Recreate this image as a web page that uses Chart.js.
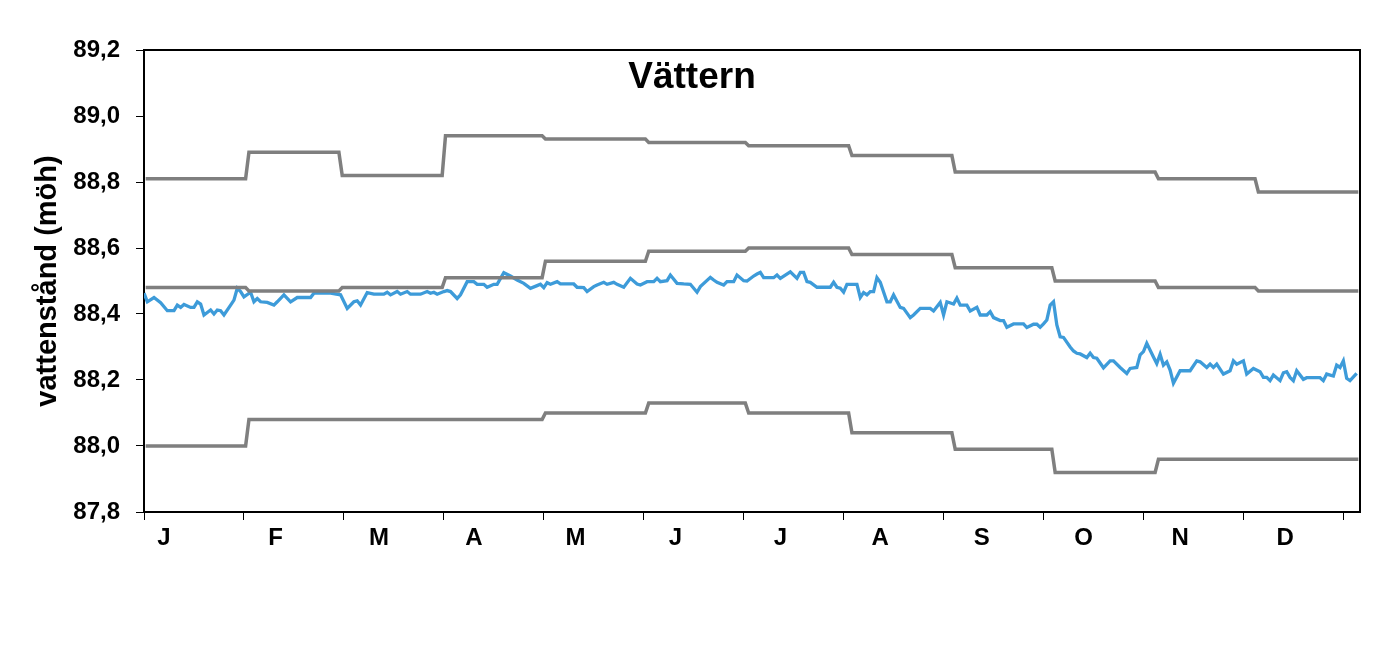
<!DOCTYPE html>
<html>
<head>
<meta charset="utf-8">
<title>Vättern</title>
<script src="https://cdn.jsdelivr.net/npm/chart.js@4.4.1/dist/chart.umd.min.js"></script>
<style>
  html, body { margin: 0; padding: 0; background: #fff; }
  #wrap { width: 1388px; height: 653px; position: relative; }
</style>
</head>
<body>
<div id="wrap"><canvas id="levelChart"></canvas></div>
<script>
// Månader och deras första dag (dag 0 = 1 jan)
const monthNames = ['J', 'F', 'M', 'A', 'M', 'J', 'J', 'A', 'S', 'O', 'N', 'D'];
const monthStartDay = [0, 31, 59, 90, 120, 151, 181, 212, 243, 273, 304, 334];
const yearDays = 365;

// Gränslinjer per månad (möh)
const upperLimit = [88.81, 88.89, 88.82, 88.94, 88.93, 88.92, 88.91, 88.88, 88.83, 88.83, 88.81, 88.77];
const middleLevel = [88.48, 88.47, 88.48, 88.51, 88.56, 88.59, 88.60, 88.58, 88.54, 88.50, 88.48, 88.47];
const lowerLimit = [88.00, 88.08, 88.08, 88.08, 88.10, 88.13, 88.10, 88.04, 87.99, 87.92, 87.96, 87.96];

// Uppmätt vattenstånd (dag, möh)
const levelDays = [
    0, 1, 3, 5, 7, 9, 10, 11, 12, 14, 15, 16, 17, 18, 20, 21, 22, 23, 24, 26, 27, 28, 29, 30,
    32, 33, 34, 35, 37, 39, 40, 42, 44, 46, 50, 51, 56, 59, 61, 63, 64, 65, 67, 69, 72, 73, 74,
    76, 77, 79, 80, 83, 85, 86, 87, 88, 90, 91, 92, 94, 95, 97, 99, 100, 102, 103, 105, 106,
    108, 110, 112, 114, 116, 118, 119, 120, 121, 122, 124, 125, 129, 130, 132, 133, 135, 136,
    138, 139, 141, 142, 144, 146, 148, 149, 151, 153, 154, 155, 157, 158, 160, 162, 164, 166,
    167, 170, 171, 172, 174, 175, 177, 178, 180, 181, 183, 184, 185, 186, 189, 190, 191, 194,
    196, 197, 198, 199, 200, 202, 206, 207, 208, 209, 210, 211, 214, 215, 216, 217, 218, 219,
    220, 221, 223, 224, 225, 227, 228, 230, 231, 233, 236, 237, 239, 240, 241, 243, 244, 245,
    247, 248, 250, 251, 253, 254, 255, 257, 258, 259, 261, 264, 265, 267, 268, 269, 270, 271,
    272, 273, 274, 275, 276, 278, 279, 280, 281, 283, 284, 285, 286, 288, 290, 291, 293, 295,
    296, 298, 299, 300, 301, 303, 304, 305, 306, 307, 308, 309, 311, 314, 316, 317, 319, 320,
    321, 322, 324, 326, 327, 328, 330, 331, 333, 335, 336, 337, 338, 339, 341, 342, 343, 344,
    345, 346, 348, 349, 353, 354, 355, 357, 358, 359, 360, 361, 362, 364
];
const levelValues = [
    88.463, 88.437, 88.450, 88.434, 88.410, 88.410, 88.427, 88.420, 88.429, 88.420, 88.420, 88.437,
    88.430, 88.397, 88.412, 88.400, 88.412, 88.410, 88.397, 88.427, 88.442, 88.478, 88.468, 88.452,
    88.466, 88.437, 88.447, 88.437, 88.435, 88.427, 88.437, 88.458, 88.437, 88.450, 88.450, 88.463,
    88.463, 88.458, 88.417, 88.437, 88.440, 88.427, 88.465, 88.460, 88.460, 88.466, 88.458,
    88.468, 88.460, 88.468, 88.460, 88.460, 88.468, 88.463, 88.466, 88.460, 88.468, 88.471, 88.468,
    88.447, 88.458, 88.498, 88.498, 88.490, 88.490, 88.481, 88.490, 88.490,
    88.525, 88.515, 88.503, 88.493, 88.478, 88.486, 88.490, 88.480, 88.495, 88.490, 88.498, 88.491,
    88.491, 88.481, 88.480, 88.468, 88.483, 88.488,
    88.496, 88.490, 88.496, 88.490, 88.481, 88.508, 88.491, 88.488, 88.498, 88.498, 88.508, 88.498,
    88.501, 88.518, 88.493, 88.491, 88.490, 88.466,
    88.483, 88.511, 88.503, 88.496, 88.488, 88.498, 88.498, 88.518, 88.501, 88.500, 88.515, 88.521,
    88.526, 88.510, 88.510, 88.518, 88.508, 88.528,
    88.508, 88.526, 88.526, 88.498, 88.496, 88.481, 88.481, 88.496, 88.481, 88.478, 88.466, 88.490,
    88.490, 88.450, 88.465, 88.458, 88.468, 88.468,
    88.510, 88.496, 88.437, 88.437, 88.458, 88.420, 88.417, 88.389, 88.397, 88.417, 88.417, 88.409,
    88.435, 88.397, 88.437, 88.430, 88.448, 88.427,
    88.427, 88.409, 88.420, 88.397, 88.397, 88.407, 88.389, 88.380, 88.380, 88.360, 88.370, 88.370,
    88.359, 88.369, 88.369, 88.360, 88.370, 88.382,
    88.427, 88.437, 88.367, 88.331, 88.329, 88.300, 88.288, 88.281, 88.279, 88.268, 88.281, 88.268,
    88.266, 88.237, 88.258, 88.258, 88.238, 88.220,
    88.235, 88.238, 88.276, 88.286, 88.311, 88.270, 88.250, 88.278, 88.245, 88.255, 88.230, 88.190,
    88.228, 88.228, 88.258, 88.255, 88.238, 88.248,
    88.238, 88.248, 88.218, 88.228, 88.258, 88.248, 88.258, 88.218, 88.235, 88.225, 88.208, 88.208,
    88.198, 88.215, 88.198, 88.222, 88.225, 88.208,
    88.198, 88.228, 88.202, 88.207, 88.207, 88.198, 88.218, 88.212, 88.245, 88.238, 88.258, 88.205,
    88.198, 88.220
];

// Y-axelns värden
const yMin = 87.8, yMax = 89.2, yStep = 0.2;

// var månadsbokstaven sitter på x-axeln (dag)
const monthLabelAt = [6, 39.5, 70.5, 99, 129.5, 159.5, 191, 221, 251.5, 282, 311, 342.5];
const tickMarkDays = Array.from({ length: 13 }, (_, k) => k * 30);

// månadsvärde -> trappsteg (en punkt i början och en i slutet av varje månad)
function monthSteps(values) {
    const pts = [];
    values.forEach((v, m) => {
        const end = m < 11 ? monthStartDay[m + 1] : yearDays;
        pts.push({ x: monthStartDay[m] + 0.5, y: v });
        pts.push({ x: end - 0.5, y: v });
    });
    return pts;
}

const fontFamily = '"Liberation Sans", Arial, sans-serif';

const framePlugin = {
    id: 'frame',
    afterDatasetsDraw(chart) {
        const { ctx, chartArea: a } = chart;
        ctx.save();
        ctx.strokeStyle = '#000';
        ctx.lineWidth = 2;
        ctx.beginPath();
        ctx.moveTo(a.left, a.top);
        ctx.lineTo(a.right, a.top);
        ctx.lineTo(a.right, a.bottom);
        ctx.stroke();
        ctx.fillStyle = '#000';
        ctx.font = 'bold 37px ' + fontFamily;
        ctx.textAlign = 'center';
        ctx.textBaseline = 'alphabetic';
        ctx.fillText('Vättern', chart.width / 2 - 2, 88);
        ctx.restore();
    }
};

const gray = '#7f7f7f';
const ctx = document.getElementById('levelChart').getContext('2d');
new Chart(ctx, {
    type: 'line',
    data: {
        datasets: [
            { label: 'Övre gräns', data: monthSteps(upperLimit), borderColor: gray, borderWidth: 3.5 },
            { label: 'Medel', data: monthSteps(middleLevel), borderColor: gray, borderWidth: 3.5 },
            { label: 'Undre gräns', data: monthSteps(lowerLimit), borderColor: gray, borderWidth: 3.5 },
            {
                label: 'Vattenstånd',
                data: levelDays.map((d, i) => ({ x: d, y: levelValues[i] })),
                borderColor: '#3d9bd9',
                borderWidth: 3.3
            }
        ]
    },
    options: {
        responsive: true,
        maintainAspectRatio: false,
        animation: false,
        parsing: false,
        elements: { point: { radius: 0 }, line: { tension: 0, fill: false } },
        layout: { padding: { left: 0, right: 28, top: 50, bottom: 0 } },
        plugins: {
            legend: { display: false },
            tooltip: { enabled: false }
        },
        scales: {
            x: {
                type: 'linear',
                min: 0,
                max: yearDays,
                afterFit: scale => { scale.height = 141; },
                afterBuildTicks: scale => {
                    const t = tickMarkDays.map(v => ({ value: v, mark: true }))
                        .concat(monthLabelAt.map((v, i) => ({ value: v, name: monthNames[i] })));
                    t.sort((a, b) => a.value - b.value);
                    scale.ticks = t;
                },
                border: { display: true, color: '#000', width: 2 },
                grid: {
                    drawOnChartArea: false,
                    drawTicks: true,
                    tickLength: 8,
                    color: c => (c.tick && c.tick.mark ? '#000' : 'rgba(0,0,0,0)'),
                    tickColor: c => (c.tick && c.tick.mark ? '#000' : 'rgba(0,0,0,0)'),
                    tickWidth: 1
                },
                ticks: {
                    autoSkip: false,
                    maxRotation: 0,
                    padding: 4,
                    color: '#000',
                    font: { family: fontFamily, size: 24, weight: 'bold' },
                    callback: (v, i, ticks) => ticks[i].name || ''
                }
            },
            y: {
                min: yMin,
                max: yMax,
                afterFit: scale => { scale.width = 144; },
                border: { display: true, color: '#000', width: 2 },
                grid: {
                    drawOnChartArea: false,
                    drawTicks: true,
                    tickLength: 8,
                    color: '#000',
                    tickColor: '#000',
                    tickWidth: 1
                },
                ticks: {
                    stepSize: yStep,
                    padding: 16,
                    color: '#000',
                    font: { family: fontFamily, size: 24, weight: 'bold' },
                    callback: v => v.toFixed(1).replace('.', ',')
                },
                title: {
                    display: true,
                    text: 'vattenstånd (möh)',
                    color: '#000',
                    padding: { top: 31, bottom: 0 },
                    font: { family: fontFamily, size: 29, weight: 'bold' }
                }
            }
        }
    },
    plugins: [framePlugin]
});
</script>
</body>
</html>
